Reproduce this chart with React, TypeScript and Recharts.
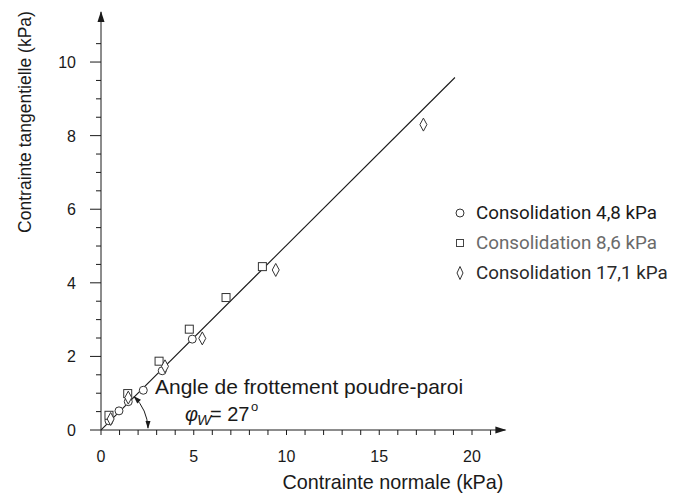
import React from "react";
import { Legend, ReferenceDot, Scatter, ScatterChart, XAxis, YAxis } from "recharts";

// Shear test: tangential vs normal stress, three consolidation levels
const xTicks = [0, 1, 2, 3, 4, 5, 6, 7, 8, 9, 10, 11, 12, 13, 14, 15, 16, 17, 18, 19, 20, 21];
const xLabels = [0, 5, 10, 15, 20];
const yTicks = [0, 0.5, 1, 1.5, 2, 2.5, 3, 3.5, 4, 4.5, 5, 5.5, 6, 6.5, 7, 7.5, 8, 8.5, 9, 9.5, 10, 10.5];
const yLabels = [0, 2, 4, 6, 8, 10];

const cons48 = [
  { x: 0.43, y: 0.25 },
  { x: 0.97, y: 0.52 },
  { x: 1.47, y: 0.77 },
  { x: 2.28, y: 1.08 },
  { x: 3.3, y: 1.61 },
  { x: 4.92, y: 2.47 },
];
const cons86 = [
  { x: 0.43, y: 0.4 },
  { x: 1.44, y: 0.99 },
  { x: 3.13, y: 1.87 },
  { x: 4.76, y: 2.74 },
  { x: 6.74, y: 3.6 },
  { x: 8.7, y: 4.44 },
];
const cons171 = [
  { x: 0.52, y: 0.3 },
  { x: 1.47, y: 0.88 },
  { x: 3.45, y: 1.73 },
  { x: 5.46, y: 2.49 },
  { x: 9.42, y: 4.35 },
  { x: 17.38, y: 8.3 },
];
const fitLine = [
  { x: 0, y: 0 },
  { x: 19.08, y: 9.58 },
];

const legendItems = [
  { name: "Consolidation 4,8 kPa", marker: "circle", color: "#1a1a1a" },
  { name: "Consolidation 8,6 kPa", marker: "square", color: "#6a6a6a" },
  { name: "Consolidation 17,1 kPa", marker: "diamond", color: "#2a2a2a" },
];

const INK = "#1a1a1a";
const FONT = "'Liberation Sans', Arial, sans-serif";

const Circle = ({ cx, cy }: any) => (
  <circle cx={cx} cy={cy} r={4} fill="#fff" stroke="#333" strokeWidth={1} />
);
const Square = ({ cx, cy }: any) => (
  <rect x={cx - 4} y={cy - 4} width={8} height={8} fill="#fff" stroke="#333" strokeWidth={1} />
);
const Diamond = ({ cx, cy }: any) => (
  <polygon
    points={`${cx},${cy - 6.5} ${cx + 3.5},${cy} ${cx},${cy + 6.5} ${cx - 3.5},${cy}`}
    fill="#fff"
    stroke="#333"
    strokeWidth={1}
  />
);

const XTick = ({ x, y, payload }: any) => (
  <g>
    <line x1={x} x2={x} y1={y} y2={y + 5} stroke={INK} strokeWidth={1} />
    {xLabels.includes(payload.value) && (
      <text x={x} y={y + 32} textAnchor="middle" fontSize={16} fill={INK} fontFamily={FONT}>
        {payload.value}
      </text>
    )}
  </g>
);

const YTick = ({ x, y, payload }: any) => {
  const major = yLabels.includes(payload.value);
  return (
    <g>
      <line x1={x - (major ? 11 : 5)} x2={x} y1={y} y2={y} stroke={INK} strokeWidth={1} />
      {major && (
        <text x={x - 25} y={y + 6} textAnchor="end" fontSize={16} fill={INK} fontFamily={FONT}>
          {payload.value}
        </text>
      )}
    </g>
  );
};

const ArrowRight = ({ cx, cy }: any) => (
  <polygon points={`${cx + 1},${cy} ${cx - 10},${cy - 3.5} ${cx - 10},${cy + 3.5}`} fill={INK} />
);
const ArrowUp = ({ cx, cy }: any) => (
  <polygon points={`${cx},${cy - 1} ${cx - 3.5},${cy + 10} ${cx + 3.5},${cy + 10}`} fill={INK} />
);

// angle arc at the origin plus the friction-angle annotation
const AngleNote = ({ cx, cy }: any) => {
  const r = 47;
  const sx = cx + r * Math.cos(Math.PI / 4);
  const sy = cy - r * Math.sin(Math.PI / 4);
  const ex = cx + r;
  const ey = cy - 2;
  return (
    <g fontFamily={FONT} fill={INK}>
      <path d={`M${sx},${sy} A${r},${r} 0 0 1 ${ex},${ey}`} fill="none" stroke={INK} strokeWidth={1} />
      <polygon points={`${ex},${ey + 1} ${ex - 2.5},${ey - 7} ${ex + 2.5},${ey - 7}`} fill={INK} />
      <polygon
        points={`${sx - 0.7},${sy - 0.7} ${sx + 6.7},${sy + 3} ${sx + 3},${sy + 6.7}`}
        fill={INK}
      />
      <text x={cx + 54} y={cy - 36} fontSize={21}>
        Angle de frottement poudre-paroi
      </text>
      <text x={cx + 84} y={cy - 9} fontSize={20} fontStyle="italic">
        φ
      </text>
      <text x={cx + 96} y={cy - 5} fontSize={15} fontStyle="italic">
        W
      </text>
      <text x={cx + 109} y={cy - 9} fontSize={20}>
        = 27
      </text>
      <text x={cx + 150} y={cy - 19} fontSize={13}>
        o
      </text>
    </g>
  );
};

const LegendBox = () => (
  <div style={{ fontFamily: "Roboto, sans-serif", fontSize: 18.8 }}>
    {legendItems.map((it) => (
      <div key={it.name} style={{ display: "flex", alignItems: "center", height: 30, color: it.color }}>
        <svg width={20} height={16} style={{ marginRight: 4 }}>
          {it.marker === "circle" && <circle cx={8} cy={8} r={4} fill="none" stroke="#333" />}
          {it.marker === "square" && <rect x={4.5} y={4.5} width={7} height={7} fill="none" stroke="#444" />}
          {it.marker === "diamond" && (
            <polygon points="8,1.5 11,8 8,14.5 5,8" fill="none" stroke="#333" />
          )}
        </svg>
        {it.name}
      </div>
    ))}
  </div>
);

export default function App() {
  return (
    <div style={{ position: "absolute", left: 0, top: 0, width: 678, height: 493, background: "#fff" }}>
      <ScatterChart width={678} height={493} margin={{ top: 12, right: 172.6, bottom: 0, left: 0 }}>
        <XAxis
          dataKey="x"
          type="number"
          domain={[0, 21.8]}
          ticks={xTicks}
          interval={0}
          tickSize={0}
          tickMargin={0}
          tickLine={false}
          axisLine={{ stroke: INK, strokeWidth: 1 }}
          tick={XTick}
          height={63}
          allowDataOverflow
          label={{
            content: ({ viewBox }: any) => (
              <text
                x={viewBox.x + viewBox.width - 2}
                y={viewBox.y + 59}
                textAnchor="end"
                fontSize={19.8}
                fill={INK}
                fontFamily={FONT}
              >
                Contrainte normale (kPa)
              </text>
            ),
          }}
        />
        <YAxis
          dataKey="y"
          type="number"
          domain={[0, 11.36]}
          ticks={yTicks}
          interval={0}
          tickSize={0}
          tickMargin={0}
          tickLine={false}
          axisLine={{ stroke: INK, strokeWidth: 1 }}
          tick={YTick}
          width={101}
          allowDataOverflow
          label={{
            content: ({ viewBox }: any) => (
              <text
                x={0}
                y={0}
                transform={`translate(${viewBox.x + 31}, ${viewBox.y + 110}) rotate(-90)`}
                textAnchor="middle"
                fontSize={17.5}
                fill={INK}
                fontFamily={FONT}
              >
                Contrainte tangentielle (kPa)
              </text>
            ),
          }}
        />
        <Scatter
          data={fitLine}
          line={{ stroke: INK, strokeWidth: 1.1 }}
          shape={() => <g />}
          legendType="none"
          isAnimationActive={false}
        />
        <Scatter name={legendItems[0].name} data={cons48} shape={Circle} isAnimationActive={false} />
        <Scatter name={legendItems[1].name} data={cons86} shape={Square} isAnimationActive={false} />
        <Scatter name={legendItems[2].name} data={cons171} shape={Diamond} isAnimationActive={false} />
        <ReferenceDot x={21.8} y={0} r={0} shape={ArrowRight} ifOverflow="visible" />
        <ReferenceDot x={0} y={11.36} r={0} shape={ArrowUp} ifOverflow="visible" />
        <ReferenceDot x={0} y={0} r={0} shape={AngleNote} ifOverflow="visible" />
        <Legend
          layout="vertical"
          align="center"
          verticalAlign="middle"
          content={LegendBox}
          wrapperStyle={{ position: "absolute", left: 452, top: 198, width: 226 }}
        />
      </ScatterChart>
    </div>
  );
}
